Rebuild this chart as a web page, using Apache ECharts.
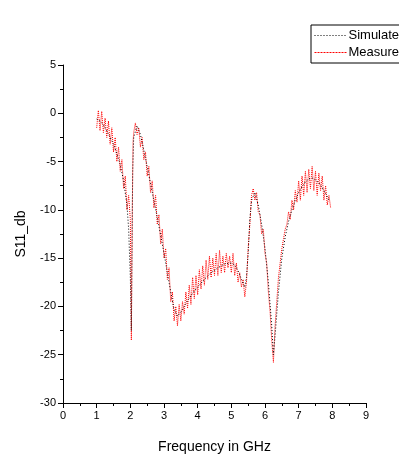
<!DOCTYPE html>
<html>
<head>
<meta charset="utf-8">
<script src="https://cdn.jsdelivr.net/npm/echarts@6/dist/echarts.min.js"></script>
<style>html,body{margin:0;padding:0;background:#fff;}#c{width:399px;height:459px;}</style>
</head>
<body>
<div id="c"></div>
<script>
var xTicks = [0,1,2,3,4,5,6,7,8,9];
var yTicks = [-30,-25,-20,-15,-10,-5,0,5];

var simulated = [
[1.0,-0.6],[1.1,-0.8],[1.2,-1.2],[1.3,-1.8],[1.4,-2.5],[1.5,-3.2],[1.6,-4.2],[1.7,-5.3],[1.8,-7.0],[1.9,-9.5],
[1.95,-12],[2.0,-17],[2.03,-22.5],[2.05,-14],[2.07,-6],[2.1,-2.5],[2.2,-1.3],[2.3,-2.2],[2.4,-3.8],[2.5,-5.5],
[2.6,-7.3],[2.7,-9.0],[2.8,-10.8],[2.9,-12.6],[3.0,-14.5],[3.1,-16.5],[3.2,-18.5],[3.3,-20.3],[3.4,-21.0],[3.5,-20.6],
[3.6,-20.0],[3.7,-19.4],[3.8,-18.9],[3.9,-18.4],[4.0,-18.0],[4.2,-17.2],[4.4,-16.5],[4.6,-16.0],[4.8,-15.6],[5.0,-15.5],
[5.1,-15.7],[5.2,-16.3],[5.3,-17.2],[5.4,-18.0],[5.45,-17.0],[5.5,-14.5],[5.55,-11],[5.6,-9.0],[5.7,-8.2],[5.8,-9.5],
[5.9,-11.5],[6.0,-14.0],[6.1,-17.5],[6.2,-22],[6.25,-25],[6.3,-23],[6.4,-18.5],[6.5,-15.0],[6.6,-12.8],[6.7,-11.2],
[6.8,-10.0],[6.9,-9.0],[7.0,-8.2],[7.1,-7.6],[7.2,-7.1],[7.3,-6.8],[7.4,-6.7],[7.5,-6.9],[7.6,-7.2],[7.7,-7.7],
[7.8,-8.3],[7.9,-9.0]
];

var measured = [
[1.00,-1.5],[1.05,0.3],[1.10,-1.8],[1.15,0.2],[1.20,-2.0],[1.25,-0.5],[1.30,-2.5],[1.35,-0.8],[1.40,-3.2],[1.45,-1.5],
[1.50,-4.0],[1.55,-2.5],[1.60,-5.0],[1.65,-3.5],[1.70,-6.0],[1.75,-4.8],[1.80,-7.8],[1.85,-6.5],[1.90,-10.0],[1.95,-8.5],
[2.00,-11],[2.03,-23.5],[2.06,-9.5],[2.08,-3.0],[2.10,-2.0],[2.15,-1.0],[2.20,-2.2],[2.25,-1.5],[2.30,-3.5],[2.35,-2.5],
[2.40,-4.8],[2.45,-4.0],[2.50,-6.5],[2.55,-5.5],[2.60,-8.2],[2.65,-7.0],[2.70,-9.8],[2.75,-8.5],[2.80,-11.5],[2.85,-10.5],
[2.90,-13.5],[2.95,-12.0],[3.00,-15.0],[3.05,-14.0],[3.10,-17.2],[3.15,-16.0],[3.20,-19.5],[3.25,-18.5],[3.30,-21.5],[3.35,-20.0],
[3.40,-22.0],[3.45,-19.8],[3.50,-21.5],[3.55,-19.5],[3.60,-20.8],[3.65,-18.5],[3.70,-20.2],[3.75,-17.8],[3.80,-19.8],[3.85,-17.0],
[3.90,-19.2],[3.95,-16.8],[4.00,-18.8],[4.05,-16.2],[4.10,-18.2],[4.15,-15.8],[4.20,-17.8],[4.25,-15.2],[4.30,-17.2],[4.35,-14.8],
[4.40,-17.0],[4.45,-15.0],[4.50,-16.8],[4.55,-14.5],[4.60,-16.8],[4.65,-14.2],[4.70,-16.5],[4.75,-14.8],[4.80,-16.5],[4.85,-14.5],
[4.90,-16.0],[4.95,-14.8],[5.00,-16.5],[5.05,-14.5],[5.10,-16.8],[5.15,-15.5],[5.20,-17.5],[5.25,-16.5],[5.30,-18.0],[5.35,-17.2],
[5.40,-19.0],[5.45,-17.5],[5.50,-14.0],[5.55,-11.5],[5.60,-8.5],[5.65,-7.8],[5.70,-9.0],[5.75,-8.2],[5.80,-10.2],[5.85,-10.5],
[5.90,-12.5],[5.95,-12.0],[6.00,-14.5],[6.05,-15.5],[6.10,-18.5],[6.15,-20.5],[6.20,-23.5],[6.25,-25.8],[6.30,-22.0],[6.35,-19.5],
[6.40,-17.0],[6.45,-15.5],[6.50,-14.0],[6.55,-13.0],[6.60,-12.0],[6.65,-11.5],[6.70,-10.2],[6.75,-11.0],[6.80,-9.0],[6.85,-10.0],
[6.90,-8.0],[6.95,-9.2],[7.00,-7.0],[7.05,-9.0],[7.10,-6.5],[7.15,-8.5],[7.20,-6.0],[7.25,-8.2],[7.30,-5.8],[7.35,-7.8],
[7.40,-5.5],[7.45,-8.0],[7.50,-6.0],[7.55,-8.5],[7.60,-6.2],[7.65,-8.0],[7.70,-6.5],[7.75,-9.0],[7.80,-7.5],[7.85,-9.5],
[7.90,-8.5],[7.95,-9.8]
];

var FONT = 'Liberation Sans Narrow, Liberation Sans, Arial, sans-serif';
var chart = echarts.init(document.getElementById('c'), null, {renderer: 'canvas'});
chart.setOption({
  animation: false,
  backgroundColor: '#fff',
  grid: {left: 63, right: 33, top: 65, bottom: 55, containLabel: false},
  legend: {
    orient: 'vertical', left: 311, top: 25,
    padding: [4, 10, 4, 3], itemGap: 4, itemWidth: 32, itemHeight: 13,
    borderColor: '#000', borderWidth: 1, backgroundColor: '#fff',
    textStyle: {fontFamily: FONT, fontSize: 13, color: '#000', padding: [0,0,0,-3]},
    data: [
      {name: 'Simulated', itemStyle: {opacity: 0}, lineStyle: {color: '#000000', width: 1, type: [1, 2], opacity: 1}},
      {name: 'Measured', itemStyle: {opacity: 0}, lineStyle: {color: '#ff0000', width: 1, type: [2, 1], opacity: 1}}
    ]
  },
  xAxis: {
    type: 'value', min: xTicks[0], max: xTicks[xTicks.length-1], interval: 1,
    name: 'Frequency in GHz', nameLocation: 'middle', nameGap: 37,
    nameTextStyle: {fontFamily: FONT, fontSize: 14, color: '#000'},
    axisLine: {show: true, onZero: false, lineStyle: {color: '#000', width: 1}},
    axisTick: {show: true, inside: false, length: 5, lineStyle: {color: '#000'}},
    minorTick: {show: true, splitNumber: 2, length: 3, lineStyle: {color: '#000'}},
    axisLabel: {fontFamily: FONT, fontSize: 11, color: '#000', margin: 7},
    splitLine: {show: false}
  },
  yAxis: {
    type: 'value', min: yTicks[0], max: yTicks[yTicks.length-1], interval: 5,
    name: 'S11_db', nameLocation: 'middle', nameGap: 35, nameRotate: 90,
    nameTextStyle: {fontFamily: FONT, fontSize: 14, color: '#000'},
    axisLine: {show: true, onZero: false, lineStyle: {color: '#000', width: 1}},
    axisTick: {show: true, inside: false, length: 5, lineStyle: {color: '#000'}},
    minorTick: {show: true, splitNumber: 2, length: 3, lineStyle: {color: '#000'}},
    axisLabel: {fontFamily: FONT, fontSize: 11, color: '#000', margin: 7},
    splitLine: {show: false}
  },
  series: [
    {name: 'Simulated', type: 'line', data: simulated, showSymbol: false, symbol: 'none',
     lineStyle: {color: '#000', width: 1, type: [1, 2]}, itemStyle: {color: '#000'}, z: 3},
    {name: 'Measured', type: 'line', data: measured, showSymbol: false, symbol: 'none',
     lineStyle: {color: '#ff0000', width: 1, type: [1, 1]}, itemStyle: {color: '#ff0000'}, z: 2}
  ]
});
</script>
</body>
</html>
